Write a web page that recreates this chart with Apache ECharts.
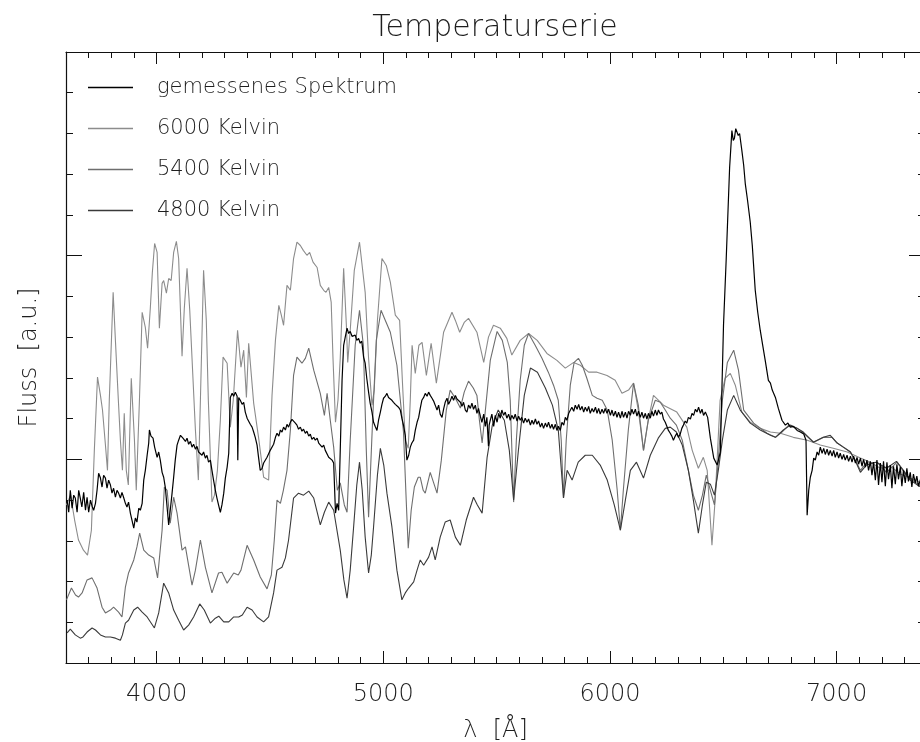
<!DOCTYPE html>
<html>
<head>
<meta charset="utf-8">
<script src="https://cdn.jsdelivr.net/npm/echarts@6/dist/echarts.min.js"></script>
<style>html,body{margin:0;padding:0;background:#fff}#c{width:920px;height:742px}</style>
</head>
<body>
<div id="c"></div>
<script>
// ---- Data ----
const seriesNames = ['gemessenes Spektrum', '6000 Kelvin', '5400 Kelvin', '4800 Kelvin'];
const majorTicksX = [4000, 5000, 6000, 7000];

const lambda6000 = [3602,3620,3638,3655,3677,3695,3712,3725,3739,3752,3761,3774,3783,3791,3808,3818,3831,3840,3849,3857,3866,3875,3888,3902,3910,3924,3936,3950,3960,3972,3981,3991,4002,4012,4024,4031,4043,4053,4064,4075,4087,4097,4112,4122,4134,4146,4156,4171,4184,4193,4207,4219,4228,4244,4255,4268,4281,4293,4311,4325,4338,4357,4372,4384,4396,4406,4428,4450,4472,4494,4509,4524,4539,4550,4560,4575,4590,4604,4619,4634,4647,4663,4675,4690,4708,4722,4737,4747,4759,4770,4778,4789,4800,4810,4825,4837,4843,4854,4872,4895,4920,4935,4950,4960,4974,4994,5013,5031,5053,5072,5084,5097,5110,5119,5127,5141,5157,5171,5190,5211,5234,5252,5266,5303,5318,5337,5357,5376,5413,5443,5464,5486,5516,5545,5567,5604,5641,5679,5722,5766,5803,5840,5869,5906,5943,5987,6023,6053,6082,6104,6125,6148,6169,6192,6236,6295,6339,6363,6390,6412,6429,6450,6464,6486,6508,6531,6553,6582,6619,6663,6708,6752,6809,6871,6928,6985,7047,7105,7149,7193,7237,7281,7325,7365,7390];
const flux6000 = [3.88,4.12,3.51,3.02,2.77,2.65,3.26,5.22,7.02,6.57,6.21,5.35,4.73,6.45,9.10,7.92,6.45,5.47,4.73,6.13,4.73,4.37,6.99,5.47,4.24,6.45,8.61,8.24,7.73,8.71,9.59,10.30,10.08,8.22,9.32,9.39,9.08,9.44,9.39,10.08,10.35,9.93,7.53,8.71,9.69,8.66,7.48,5.72,4.49,6.45,9.64,8.41,6.45,3.95,4.12,4.73,5.96,7.51,7.36,5.79,6.45,8.17,7.26,7.68,6.52,7.85,6.38,5.52,4.56,4.49,6.57,7.92,8.78,8.54,8.29,9.27,9.15,9.93,10.33,10.25,10.13,10.01,10.08,9.84,9.71,9.27,9.15,9.10,9.22,8.86,7.48,5.91,6.45,7.48,9.69,8.29,7.38,8.17,9.64,10.33,9.10,7.48,6.33,6.70,8.41,9.93,9.76,9.35,8.54,8.41,6.94,5.47,5.27,6.45,7.80,7.11,7.80,7.87,7.06,7.85,6.87,7.56,8.12,8.61,8.41,8.12,8.36,8.46,8.12,7.38,8.00,8.29,8.22,7.97,7.56,7.92,8.09,7.92,7.60,7.43,7.24,7.38,7.31,7.14,7.14,7.06,6.94,6.62,6.70,6.87,6.21,5.22,5.96,6.57,6.33,6.16,5.79,5.22,4.78,5.05,4.73,2.89,4.00,6.45,6.99,7.11,6.82,6.16,5.91,5.76,5.67,5.64,5.54,5.47,5.35,5.27,5.18,5.03,4.93,4.78,4.83,4.64,4.54,4.44,4.38];

const lambda5400 = [3602,3624,3642,3655,3671,3693,3715,3737,3759,3774,3796,3810,3832,3847,3862,3876,3899,3913,3925,3943,3965,3987,4004,4024,4034,4046,4060,4075,4090,4112,4127,4156,4171,4193,4215,4244,4273,4288,4311,4340,4360,4372,4399,4428,4457,4487,4506,4519,4531,4546,4559,4575,4590,4604,4619,4641,4656,4671,4693,4722,4740,4752,4766,4781,4797,4810,4828,4840,4854,4876,4895,4912,4925,4935,4951,4969,4990,5009,5031,5060,5089,5101,5110,5123,5137,5154,5163,5176,5185,5207,5237,5256,5278,5295,5318,5340,5357,5376,5397,5413,5424,5436,5446,5472,5502,5525,5547,5560,5575,5587,5604,5622,5641,5670,5700,5728,5751,5772,5785,5795,5807,5825,5842,5861,5878,5898,5922,5943,5966,5988,6010,6032,6046,6059,6081,6104,6125,6148,6169,6200,6222,6244,6266,6293,6319,6346,6368,6390,6408,6425,6443,6461,6478,6496,6518,6546,6567,6590,6634,6693,6730,6759,6789,6826,6855,6899,6943,6980,7002,7031,7061,7087,7105,7131,7179,7220,7267,7303,7334,7365,7390];
const flux5400 = [1.55,1.84,1.67,1.62,1.72,2.04,2.09,1.84,1.37,1.23,1.30,1.37,1.25,1.13,1.86,2.21,2.53,2.85,3.19,2.77,2.65,2.58,2.09,3.26,4.32,4.24,3.43,4.07,3.68,2.77,2.85,1.91,2.28,3.02,2.35,1.72,2.21,2.23,1.96,2.21,2.16,2.28,2.89,2.53,2.11,1.82,2.16,3.02,4.00,3.92,4.24,4.73,5.72,7.06,7.51,7.36,7.48,7.73,7.19,6.62,6.08,6.62,5.96,5.30,4.24,4.42,3.88,3.70,5.47,7.80,8.66,7.80,5.22,3.58,5.72,7.92,8.66,8.41,8.12,7.31,5.67,4.00,2.82,3.75,4.32,4.56,4.56,4.24,4.17,4.68,4.17,4.98,6.21,6.70,6.50,6.26,6.65,6.92,6.75,6.57,5.96,5.40,5.96,7.43,8.14,7.92,7.38,6.45,3.95,5.47,6.94,7.80,8.09,7.80,7.48,7.14,6.82,6.45,5.47,4.05,5.47,6.82,7.38,7.48,7.31,6.99,6.57,6.50,6.45,6.21,5.47,4.24,3.26,4.24,5.72,6.87,6.33,5.22,5.96,6.45,6.40,6.21,6.01,5.84,5.47,4.73,4.12,3.75,4.12,4.61,4.24,3.88,4.98,6.45,7.38,7.68,7.19,6.21,5.89,5.64,5.54,5.67,5.84,5.76,5.64,5.42,5.54,5.54,5.40,5.30,5.18,4.93,4.73,4.91,4.93,4.68,4.93,4.64,4.49,4.37,4.30];

const lambda4800 = [3605,3619,3641,3663,3675,3693,3715,3730,3752,3774,3796,3818,3840,3849,3862,3876,3899,3916,3936,3958,3990,4009,4031,4053,4075,4097,4119,4141,4163,4190,4210,4237,4259,4274,4296,4318,4340,4362,4378,4399,4421,4443,4472,4494,4516,4531,4553,4568,4582,4604,4626,4648,4671,4693,4722,4740,4759,4781,4810,4826,4840,4854,4869,4883,4895,4907,4920,4935,4947,4957,4974,4987,5002,5016,5038,5060,5082,5097,5112,5134,5149,5163,5178,5200,5215,5229,5251,5273,5295,5318,5340,5366,5398,5415,5436,5458,5481,5507,5534,5556,5575,5596,5622,5649,5680,5715,5746,5772,5795,5811,5833,5860,5891,5922,5957,5988,6019,6046,6068,6090,6117,6148,6178,6213,6244,6266,6293,6319,6346,6368,6390,6408,6425,6443,6461,6478,6496,6518,6546,6575,6619,6663,6708,6730,6765,6796,6827,6853,6897,6941,6972,7003,7029,7061,7087,7105,7131,7175,7220,7264,7295,7325,7365,7390];
const flux4800 = [0.74,0.83,0.69,0.61,0.64,0.76,0.86,0.81,0.69,0.64,0.64,0.61,0.56,0.69,0.98,1.05,1.30,1.37,1.25,1.13,0.86,1.23,1.96,1.72,1.30,1.05,0.81,0.93,1.13,1.45,1.30,0.98,1.10,1.15,1.01,1.01,1.13,1.13,1.18,1.37,1.30,1.13,1.01,1.13,1.72,2.28,2.35,2.58,3.02,4.05,4.17,4.12,4.22,4.05,3.39,3.70,3.95,3.75,2.77,2.04,1.59,2.28,3.34,4.37,4.93,4.24,3.09,2.21,2.65,3.34,4.61,5.27,4.86,4.17,3.34,2.28,1.55,1.72,1.84,1.99,2.28,2.53,2.40,2.60,2.85,2.53,3.09,3.46,3.51,3.09,2.89,3.51,4.07,3.88,3.68,5.05,5.84,6.21,5.96,5.22,4.00,5.22,6.57,7.24,7.14,6.75,6.33,5.72,4.05,4.73,4.49,4.93,5.10,5.10,4.86,4.49,3.88,3.26,4.00,4.73,4.93,4.54,5.10,5.52,5.76,5.79,5.67,5.35,4.73,4.00,3.19,3.88,4.44,4.39,4.12,4.73,5.47,6.21,6.57,6.21,5.89,5.72,5.59,5.54,5.72,5.84,5.76,5.67,5.42,5.54,5.59,5.40,5.30,5.18,4.91,4.68,4.86,4.93,4.78,4.95,4.73,4.49,4.34,4.28];

// measured spectrum: [wavelength (Å), flux (a.u.)]
const measured = [[3605,4.00],[3612,3.70],[3619,4.24],[3627,3.80],[3634,4.12],[3641,4.05],[3649,3.70],[3656,4.24],[3663,4.05],[3670,3.83],[3678,4.19],[3686,3.75],[3693,4.07],[3700,3.70],[3708,4.00],[3715,3.85],[3722,3.75],[3730,3.92],[3737,4.24],[3744,4.66],[3752,4.54],[3759,4.32],[3766,4.61],[3774,4.54],[3781,4.29],[3788,4.49],[3796,4.37],[3803,4.17],[3810,4.29],[3818,4.07],[3825,4.24],[3832,4.17],[3840,4.05],[3847,4.19],[3854,4.07],[3862,3.92],[3869,3.83],[3876,3.95],[3884,3.68],[3891,3.51],[3899,3.31],[3906,3.56],[3913,3.46],[3921,3.80],[3928,3.75],[3936,3.92],[3943,4.49],[3950,4.73],[3958,5.10],[3965,5.40],[3968,5.72],[3975,5.57],[3984,5.52],[3991,5.30],[4002,5.05],[4009,5.18],[4016,4.98],[4024,4.68],[4031,4.56],[4038,4.32],[4046,3.83],[4053,3.39],[4060,3.75],[4068,4.17],[4075,4.56],[4082,4.98],[4090,5.35],[4097,5.47],[4105,5.59],[4116,5.52],[4127,5.44],[4134,5.52],[4141,5.37],[4149,5.44],[4156,5.30],[4163,5.37],[4171,5.25],[4178,5.32],[4185,5.18],[4193,5.22],[4200,5.10],[4207,5.18],[4215,5.03],[4222,5.10],[4229,4.93],[4237,4.98],[4244,4.73],[4251,4.49],[4259,4.24],[4266,4.05],[4273,3.88],[4281,3.70],[4288,3.88],[4296,4.17],[4303,4.54],[4311,4.81],[4318,5.15],[4325,6.52],[4333,6.62],[4340,6.55],[4347,6.65],[4355,6.55],[4358,4.98],[4362,6.52],[4369,6.45],[4377,6.35],[4384,6.40],[4391,6.16],[4399,6.01],[4406,6.03],[4413,5.86],[4421,5.79],[4428,5.67],[4435,5.54],[4443,5.35],[4450,5.03],[4457,4.73],[4465,4.78],[4472,4.91],[4479,4.93],[4487,5.05],[4494,5.03],[4501,5.22],[4509,5.18],[4516,5.37],[4524,5.54],[4531,5.64],[4539,5.57],[4546,5.72],[4553,5.67],[4560,5.79],[4568,5.72],[4575,5.86],[4582,5.79],[4590,5.91],[4597,5.98],[4604,5.96],[4612,5.89],[4619,5.84],[4626,5.74],[4634,5.79],[4641,5.69],[4648,5.74],[4656,5.64],[4663,5.69],[4671,5.57],[4678,5.62],[4685,5.49],[4693,5.54],[4700,5.47],[4708,5.52],[4715,5.40],[4722,5.37],[4730,5.30],[4737,5.35],[4744,5.22],[4752,5.18],[4759,5.05],[4766,5.08],[4774,4.98],[4781,4.91],[4789,3.68],[4796,3.92],[4803,3.75],[4810,5.22],[4818,6.94],[4825,7.80],[4832,8.00],[4840,8.22],[4847,8.09],[4854,8.14],[4862,8.02],[4869,8.00],[4876,8.05],[4883,7.92],[4891,7.97],[4898,7.85],[4905,7.90],[4913,7.51],[4920,7.36],[4927,6.99],[4935,6.65],[4942,6.38],[4950,6.16],[4957,5.91],[4964,5.81],[4972,5.71],[4979,5.96],[4987,6.16],[4994,6.35],[5001,6.50],[5009,6.55],[5016,6.62],[5023,6.52],[5031,6.52],[5038,6.45],[5045,6.40],[5053,6.35],[5060,6.38],[5067,6.28],[5075,6.21],[5082,6.01],[5089,5.84],[5097,5.59],[5104,4.98],[5112,5.10],[5119,5.30],[5126,5.40],[5134,5.47],[5141,5.71],[5149,5.91],[5156,6.03],[5163,6.25],[5170,6.45],[5178,6.52],[5185,6.62],[5193,6.55],[5200,6.65],[5207,6.57],[5215,6.50],[5222,6.43],[5229,6.33],[5237,6.21],[5244,6.33],[5251,6.11],[5259,6.03],[5266,6.23],[5273,6.40],[5281,6.50],[5288,6.35],[5295,6.43],[5303,6.55],[5310,6.45],[5318,6.57],[5325,6.48],[5332,6.52],[5340,6.40],[5347,6.30],[5354,6.40],[5362,6.21],[5369,6.16],[5376,6.33],[5384,6.25],[5391,6.38],[5398,6.23],[5406,6.33],[5413,6.13],[5420,6.25],[5428,6.06],[5435,5.91],[5443,6.11],[5450,5.81],[5457,6.03],[5464,5.32],[5467,5.84],[5472,5.96],[5479,6.11],[5487,5.81],[5494,6.08],[5502,5.91],[5509,6.13],[5516,6.01],[5523,6.21],[5531,6.08],[5538,6.16],[5545,6.01],[5553,6.11],[5560,5.96],[5567,6.08],[5575,5.99],[5582,6.11],[5590,5.94],[5597,6.06],[5604,5.96],[5611,6.03],[5619,5.89],[5626,6.01],[5634,5.91],[5641,5.99],[5649,5.84],[5656,5.96],[5663,5.86],[5671,5.99],[5678,5.86],[5685,5.94],[5693,5.79],[5700,5.89],[5707,5.76],[5715,5.89],[5722,5.79],[5729,5.91],[5737,5.76],[5744,5.86],[5751,5.74],[5759,5.86],[5766,5.71],[5773,5.81],[5781,5.71],[5788,5.91],[5796,5.84],[5803,6.03],[5810,5.96],[5818,6.13],[5825,6.11],[5832,6.28],[5840,6.18],[5847,6.33],[5855,6.23],[5862,6.35],[5869,6.21],[5877,6.30],[5884,6.16],[5891,6.28],[5899,6.18],[5906,6.30],[5913,6.13],[5921,6.25],[5928,6.16],[5936,6.28],[5943,6.13],[5950,6.25],[5957,6.11],[5965,6.23],[5972,6.13],[5979,6.25],[5987,6.13],[5994,6.23],[6002,6.08],[6009,6.21],[6016,6.06],[6024,6.18],[6031,6.03],[6038,6.16],[6046,6.01],[6053,6.18],[6060,6.03],[6068,6.16],[6075,6.01],[6082,6.18],[6090,6.08],[6097,6.23],[6104,6.11],[6112,6.23],[6119,6.06],[6126,6.18],[6134,6.03],[6141,6.16],[6148,6.01],[6156,6.13],[6163,5.99],[6170,6.13],[6178,6.01],[6185,6.18],[6192,6.06],[6200,6.21],[6207,6.08],[6214,6.21],[6222,6.11],[6229,6.16],[6236,5.99],[6244,5.91],[6251,5.81],[6258,5.71],[6266,5.64],[6273,5.57],[6280,5.47],[6288,5.57],[6295,5.64],[6302,5.54],[6310,5.62],[6317,5.76],[6324,5.84],[6332,5.94],[6339,5.89],[6346,6.03],[6355,5.99],[6362,6.13],[6369,6.08],[6377,6.23],[6384,6.16],[6391,6.28],[6399,6.13],[6406,6.23],[6413,6.08],[6421,6.16],[6431,6.03],[6443,5.52],[6458,5.03],[6473,4.86],[6487,5.18],[6501,8.29],[6513,9.93],[6528,12.17],[6538,13.07],[6544,12.83],[6549,12.88],[6555,13.12],[6560,13.15],[6566,12.95],[6572,13.00],[6582,12.58],[6590,12.22],[6597,11.77],[6607,11.36],[6619,10.82],[6628,10.25],[6641,9.15],[6652,8.61],[6663,8.17],[6674,7.80],[6685,7.43],[6699,6.94],[6708,6.87],[6716,6.70],[6730,6.52],[6743,6.25],[6759,5.96],[6774,5.84],[6785,5.89],[6796,5.79],[6809,5.81],[6826,5.71],[6840,5.67],[6855,5.62],[6865,5.47],[6870,3.63],[6877,4.24],[6884,4.56],[6892,4.73],[6899,5.03],[6906,4.98],[6914,5.18],[6921,5.10],[6928,5.30],[6936,5.15],[6943,5.27],[6950,5.12],[6958,5.25],[6965,5.10],[6972,5.22],[6980,5.08],[6987,5.22],[6994,5.05],[7002,5.18],[7009,5.03],[7016,5.15],[7024,5.00],[7031,5.12],[7038,4.98],[7046,5.10],[7053,4.95],[7061,5.08],[7068,4.93],[7075,5.08],[7083,4.91],[7090,5.05],[7097,4.88],[7105,5.03],[7112,4.83],[7119,5.00],[7127,4.81],[7134,4.98],[7141,4.73],[7149,4.95],[7156,4.61],[7163,4.93],[7171,4.49],[7178,4.98],[7185,4.37],[7193,4.91],[7200,4.44],[7207,4.95],[7215,4.34],[7222,4.93],[7229,4.51],[7237,4.86],[7244,4.29],[7251,4.83],[7259,4.39],[7266,4.88],[7273,4.51],[7281,4.81],[7288,4.34],[7295,4.73],[7303,4.42],[7310,4.78],[7317,4.46],[7325,4.68],[7332,4.32],[7339,4.64],[7347,4.42],[7354,4.59],[7361,4.34],[7375,4.60],[7390,4.40]];

function zip(xs, ys) {
  const n = Math.min(xs.length, ys.length);
  const out = [];
  for (let i = 0; i < n; i++) out.push([xs[i], ys[i]]);
  return out;
}

const X_MIN = 3600, X_MAX = 7390, Y_MIN = 0, Y_MAX = 15;
const FONT = '"DejaVu Sans", sans-serif';
const FW = 200;
const TXT = '#1e1e1e';
const AX = '#111';

function xAxisDef(pos, major) {
  const a = {
    type: 'value', position: pos, min: X_MIN, max: X_MAX,
    splitLine: { show: false },
    axisLine: { show: major, lineStyle: { color: AX, width: 1.2 } },
    axisLabel: { show: false },
    axisTick: { show: true, inside: true, lineStyle: { color: AX, width: 1 } }
  };
  if (major) {
    a.axisTick.customValues = majorTicksX;
    a.axisTick.length = 12;
  } else {
    a.interval = 100;
    a.axisTick.length = 6;
  }
  return a;
}

const xBottomMajor = xAxisDef('bottom', true);
xBottomMajor.axisLabel = {
  show: true, customValues: majorTicksX, fontSize: 24, color: TXT, fontFamily: FONT, fontWeight: FW, margin: 20,
  formatter: function (v) { return String(v); }
};
xBottomMajor.name = 'λ  [Å]';
xBottomMajor.nameLocation = 'middle';
xBottomMajor.nameGap = 56;
xBottomMajor.nameTextStyle = { fontSize: 24, color: TXT, fontFamily: FONT, fontWeight: FW };

function yAxisDef(pos) {
  return {
    type: 'value', position: pos, min: Y_MIN, max: Y_MAX, interval: 5,
    splitLine: { show: false },
    axisLine: { show: true, lineStyle: { color: AX, width: 1.2 } },
    axisLabel: { show: false },
    axisTick: { show: true, inside: true, length: 16, lineStyle: { color: AX, width: 1 } },
    minorTick: { show: true, splitNumber: 5, length: 7, lineStyle: { color: AX, width: 1 } }
  };
}
const yLeft = yAxisDef('left');
yLeft.name = 'Fluss  [a.u.]';
yLeft.nameLocation = 'middle';
yLeft.nameGap = 24;
yLeft.nameTextStyle = { fontSize: 24, color: TXT, fontFamily: FONT, fontWeight: FW };

const colors = ['#000000', '#8c8c8c', '#6e6e6e', '#3a3a3a'];
const seriesData = [measured, zip(lambda6000, flux6000), zip(lambda5400, flux5400), zip(lambda4800, flux4800)];

const chart = echarts.init(document.getElementById('c'), null, { renderer: 'canvas' });
chart.setOption({
  animation: false,
  backgroundColor: '#ffffff',
  color: colors,
  title: {
    text: 'Temperaturserie', left: 490, top: 8, textAlign: 'center',
    textStyle: { fontSize: 30, fontWeight: FW, color: TXT, fontFamily: FONT }
  },
  legend: {
    orient: 'vertical', left: 88, top: 77, padding: 0,
    itemWidth: 45, itemHeight: 1.5, itemGap: 20, icon: 'rect',
    data: seriesNames,
    selectedMode: false,
    textStyle: { fontSize: 21, color: TXT, fontFamily: FONT, fontWeight: FW, padding: [0, 0, 0, 19] }
  },
  grid: { left: 66, top: 52, width: 859, height: 611, containLabel: false, outerBoundsMode: 'none' },
  xAxis: [xBottomMajor, xAxisDef('bottom', false), xAxisDef('top', true), xAxisDef('top', false)],
  yAxis: [yLeft, yAxisDef('right')],
  series: seriesNames.map((name, i) => ({
    name, type: 'line', xAxisIndex: 0, yAxisIndex: 0,
    data: seriesData[i], showSymbol: false, symbol: 'none', clip: true,
    lineStyle: { width: i === 0 ? 1.2 : 1.1, color: colors[i] },
    itemStyle: { color: colors[i] },
    z: i === 0 ? 3 : 2
  }))
});
</script>
</body>
</html>
